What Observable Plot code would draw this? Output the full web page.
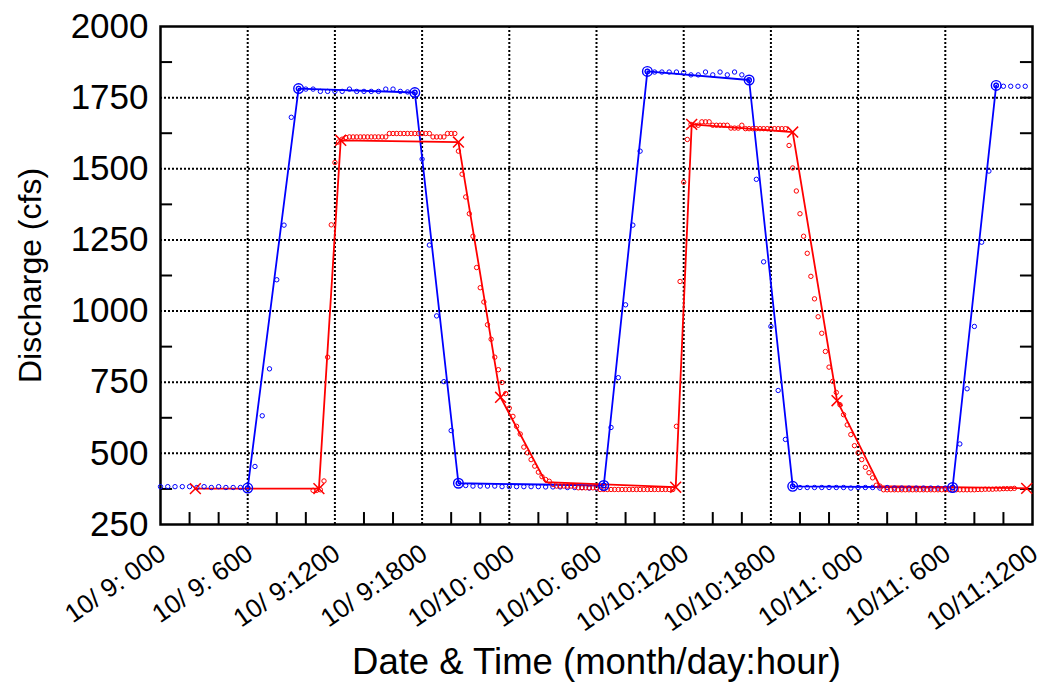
<!DOCTYPE html>
<html><head><meta charset="utf-8">
<script src="https://cdn.jsdelivr.net/npm/d3@7"></script>
<script src="https://cdn.jsdelivr.net/npm/@observablehq/plot@0.6"></script>
<style>body{margin:0;background:#fff;} #chart svg{display:block;}</style>
</head><body><div id="chart"></div>
<script>
// ---- Axis data ----
const xTickHours = [0, 6, 12, 18, 24, 30, 36, 42, 48, 54, 60];
const xTickLabels = ["10/ 9: 000", "10/ 9: 600", "10/ 9:1200", "10/ 9:1800", "10/10: 000", "10/10: 600",
  "10/10:1200", "10/10:1800", "10/11: 000", "10/11: 600", "10/11:1200"];
const xGridHours = [6, 12, 18, 24, 30, 36, 42, 48, 54];
const xMinorHours = [2, 4, 8, 10, 14, 16, 20, 22, 26, 28, 32, 34, 38, 40, 44, 46, 50, 52, 56, 58];
const yTicks = [250, 500, 750, 1000, 1250, 1500, 1750, 2000];
const yGrid = [500, 750, 1000, 1250, 1500, 1750];
const yMinorLeft = [375, 625, 875, 1125, 1375, 1625, 1875];
const yMinorRight = [375, 500, 625, 750, 875, 1000, 1125, 1250, 1375, 1500, 1625, 1750, 1875];
const xTitle = "Date & Time (month/day:hour)";
const yTitle = "Discharge (cfs)";

// ---- Blue series: line through control points (hours since 10/9 00:00, cfs) ----
const blueLineHours = [6, 9.5, 17.5, 20.5, 30.5, 33.5, 40.5, 43.5, 54.5, 57.5];
const blueLineQ = [378, 1782, 1768, 395, 387, 1842, 1812, 384, 380, 1793];

// ---- Red series: line vertices ----
const redLineHours = [2.4, 10.9, 12.4, 20.5, 23.4, 26.5, 35.45, 36.55, 43.5, 46.55, 49.5, 59.6];
const redLineQ = [376, 376, 1600, 1594, 697, 399, 381, 1656, 1629, 685, 385, 377];
const redLineMarked = [1, 1, 1, 1, 1, 0, 1, 1, 1, 1, 0, 1];

// ---- Blue observations: every half hour from hour 0 ----
const blueObsStart = 0, blueObsStep = 0.5;
const blueObs = [
  383, 383, 383, 383, 383, 380, 383, 380, 383, 380, 380, 380, 378,
  454, 632, 797, 1110, 1302, 1681,
  1782, 1780, 1780, 1772, 1772, 1772, 1772, 1780, 1772, 1772, 1772, 1772, 1780, 1780, 1772, 1770, 1768,
  1534, 1232, 983, 752, 580, 395,
  387, 385, 385, 385, 385, 383, 383, 383, 383, 383, 383, 382, 382, 382, 380, 380, 380, 378, 378,
  387,
  591, 766, 1022, 1302, 1562,
  1842, 1840, 1840, 1840, 1840, 1838, 1830, 1830, 1840, 1830, 1840, 1830, 1840, 1830, 1811,
  1463, 1173, 946, 721, 549,
  384,
  380, 380, 380, 380, 380, 380, 380, 378, 380, 380, 380, 378, 380, 378, 378, 378, 378, 378, 378, 378, 378,
  380,
  533, 727, 946, 1242, 1492,
  1793,
  1790, 1790, 1790, 1790
];

// ---- Red observations: every quarter hour from hour 10.5 ----
const redObsStart = 10.5, redObsStep = 0.25;
const redObs = [
  370, 370, 372, 403, 838, 1303, 1522, 1594,
  1604, 1610, 1612, 1612, 1612, 1612, 1612, 1612, 1612, 1612, 1612, 1612, 1612,
  1624, 1624, 1624, 1624, 1624, 1624, 1624, 1624, 1624, 1624, 1624, 1624,
  1612, 1612, 1612, 1612,
  1624, 1624, 1624,
  1562, 1481, 1401, 1342, 1263, 1153, 1082, 1032, 952, 901, 838, 794, 749, 710, 659, 630, 595, 568, 522, 502,
  478, 455, 434, 418, 408, 402, 391,
  385, 385, 385, 385, 385, 385,
  379, 379, 379, 379, 379, 379,
  373, 373, 373, 373, 373, 373, 373, 373, 373, 373, 373, 373, 373, 373, 373, 373, 373, 373, 373, 373, 373,
  595, 1104, 1453, 1603,
  1656, 1653, 1653,
  1665, 1665, 1665,
  1653, 1653, 1653, 1653, 1653,
  1643, 1643, 1643,
  1653,
  1641, 1641, 1641, 1641, 1641, 1641, 1641, 1641, 1641, 1641, 1641, 1641,
  1582, 1503, 1422, 1342, 1263, 1203, 1122, 1043, 980, 922, 858, 803, 753, 714, 671, 636, 600, 566, 527, 502,
  478, 451, 432, 414, 388, 385,
  372, 372, 372, 372, 372, 372, 372, 372, 372, 372, 372, 372, 372, 372, 372, 372, 372, 372, 372, 372,
  372, 372, 372, 372, 372, 372,
  373, 373, 374, 374, 374, 375, 375, 376, 376, 376, 377
];

// ---- Build tables ----
const blueLine = blueLineHours.map((h, i) => ({h, q: blueLineQ[i]}));
const redLine = redLineHours.map((h, i) => ({h, q: redLineQ[i], m: redLineMarked[i]}));
const redMarkers = redLine.filter(d => d.m);
const blueObsData = blueObs.map((q, i) => ({h: blueObsStart + i * blueObsStep, q}));
const redObsData = redObs.map((q, i) => ({h: redObsStart + i * redObsStep, q}));
const xTicks = xTickHours.map((h, i) => ({h, label: xTickLabels[i]}));

const BLUE = "#0000ff", RED = "#ff0000";
const gridStyle = {stroke: "black", strokeOpacity: 1, strokeWidth: 2, strokeDasharray: "2,2"};

const chart = Plot.plot({
  width: 1044,
  height: 685,
  marginLeft: 160,
  marginRight: 12,
  marginTop: 26,
  marginBottom: 161,
  style: {fontFamily: "'Liberation Sans', Arial, sans-serif", background: "#fff", color: "black"},
  x: {domain: [0, 60], axis: null},
  y: {domain: [250, 2000], axis: null},
  marks: [
    Plot.gridX(xGridHours, gridStyle),
    Plot.gridY(yGrid, gridStyle),
    Plot.ruleX(xMinorHours, {x: d => d, y1: 250, y2: 292, stroke: "black", strokeWidth: 2}),
    Plot.ruleY(yMinorLeft, {y: d => d, x1: 0, x2: 0.83, stroke: "black", strokeWidth: 2}),
    Plot.ruleY(yMinorRight, {y: d => d, x1: 59.17, x2: 60, stroke: "black", strokeWidth: 2}),
    Plot.frame({stroke: "black", strokeWidth: 2.5}),
    Plot.line(blueLine, {x: "h", y: "q", stroke: BLUE, strokeWidth: 1.8}),
    Plot.line(redLine, {x: "h", y: "q", stroke: RED, strokeWidth: 1.8}),
    Plot.dot(blueObsData, {x: "h", y: "q", r: 2.2, stroke: BLUE, strokeWidth: 1}),
    Plot.dot(redObsData, {x: "h", y: "q", r: 2.2, stroke: RED, strokeWidth: 1}),
    Plot.dot(blueLine, {x: "h", y: "q", r: 4.8, stroke: BLUE, strokeWidth: 1.4}),
    Plot.dot(blueLine, {x: "h", y: "q", r: 2.3, stroke: BLUE, strokeWidth: 1.2}),
    Plot.dot(redMarkers, {x: "h", y: "q", r: 5, symbol: "times", stroke: RED, strokeWidth: 1.5}),
    Plot.axisY({ticks: yTicks, tickSize: 0, tickPadding: 12, fontSize: 35, label: null, tickFormat: d => String(d)}),
    Plot.text(xTicks, {x: "h", y: () => 250, text: "label", dx: 7, dy: 33, rotate: -35,
      textAnchor: "end", lineAnchor: "bottom", fontSize: 26, fill: "black"}),
    Plot.text([xTitle], {frameAnchor: "bottom", dy: 138, textAnchor: "middle", lineAnchor: "middle", fontSize: 36.5, fill: "black"}),
    Plot.text([yTitle], {frameAnchor: "left", dx: -130, rotate: -90, textAnchor: "middle", lineAnchor: "middle", fontSize: 32, fill: "black"})
  ]
});
document.getElementById("chart").appendChild(chart);
</script>
</body></html>
